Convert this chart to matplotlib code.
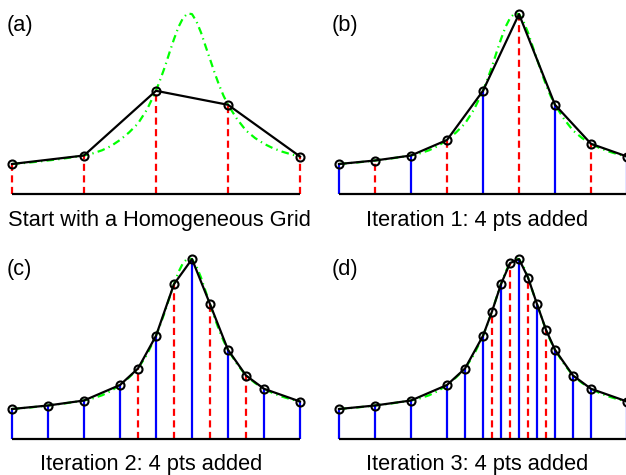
import matplotlib
matplotlib.use('Agg')
import matplotlib.pyplot as plt

# ---------------- data (heights) ----------------
# underlying function (green dash-dot curve), sampled
curve_x = [0/32, 1/32, 2/32, 3/32, 4/32, 5/32, 6/32, 7/32, 8/32, 9/32, 10/32,
           11/32, 12/32, 13/32, 14/32, 15/32, 32/64, 33/64, 34/64, 35/64,
           36/64, 37/64, 38/64, 39/64, 40/64, 41/64, 42/64, 43/64, 44/64,
           45/64, 46/64, 47/64, 48/64, 25/32, 26/32, 27/32, 28/32, 29/32,
           30/32, 31/32, 32/32]
curve_y = [29.5, 30.2, 31.0, 32.0, 33.0, 34.1, 35.3, 36.6, 38.0, 40.2, 43.2,
           47.5, 53.5, 61.0, 70.0, 84.0, 102.7, 114.5, 127.0, 141.0,
           154.4, 166.5, 175.4, 180.0, 179.4, 172.0, 161.0, 147.5, 134.4,
           121.0, 108.7, 97.8, 88.7, 74.5, 63.0, 55.5, 49.7, 45.3,
           41.9, 39.2, 37.0]

# panel (a): homogeneous grid
xa = [0, 0.25, 0.5, 0.75, 1]
ya = [29.5, 38.0, 102.7, 88.7, 37.0]
new_a = [0, 0.25, 0.5, 0.75, 1]

# panel (b): iteration 1
xb = [0, 0.125, 0.25, 0.375, 0.5, 0.625, 0.75, 0.875, 1]
yb = [29.5, 33.0, 38.0, 53.5, 102.7, 179.4, 88.7, 49.7, 37.0]
new_b = [0.125, 0.375, 0.625, 0.875]

# panel (c): iteration 2
xc = [0, 0.125, 0.25, 0.375, 0.4375, 0.5, 0.5625, 0.625, 0.6875, 0.75,
      0.8125, 0.875, 1]
yc = [29.5, 33.0, 38.0, 53.5, 70.0, 102.7, 154.4, 179.4, 134.4, 88.7,
      63.0, 49.7, 37.0]
new_c = [0.4375, 0.5625, 0.6875, 0.8125]

# panel (d): iteration 3
xd = [0, 4/32, 8/32, 12/32, 14/32, 16/32, 17/32, 18/32, 19/32, 20/32, 21/32,
      22/32, 23/32, 24/32, 26/32, 28/32, 1]
yd = [29.5, 33.0, 38.0, 53.5, 70.0, 102.7, 127.0, 154.4, 175.4, 179.4, 161.0,
      134.4, 108.7, 88.7, 63.0, 49.7, 37.0]
new_d = [17/32, 19/32, 21/32, 23/32]

labels = ['(a)', '(b)', '(c)', '(d)']
titles = ['Start with a Homogeneous Grid', 'Iteration 1: 4 pts added',
          'Iteration 2: 4 pts added', 'Iteration 3: 4 pts added']

# ---------------- layout ----------------
W, H = 626, 475
fig = plt.figure(figsize=(W / 100, H / 100), dpi=100)
FONT = 'Liberation Sans'
FS = 15.7

panels = [(xa, ya, new_a), (xb, yb, new_b), (xc, yc, new_c), (xd, yd, new_d)]
ax_left = [12, 339, 12, 339]          # px from left
ax_base = [193.5, 193.5, 438.5, 438.5]  # baseline px from top
title_cx = [159.5, 477.5, 151, 477.5]
title_base = [226, 226, 470, 470]
label_x = [7, 332, 7, 332]
label_base = [31, 31, 275, 275]

LW = 1.6  # ~2 px

for i, (xs, ys, new) in enumerate(panels):
    ax = fig.add_axes([ax_left[i] / W, (H - ax_base[i]) / H, 288 / W, 180 / H])
    ax.set_xlim(0, 1)
    ax.set_ylim(0, 180)
    ax.axis('off')

    # underlying function
    ax.plot(curve_x, curve_y, color=(0, 1, 0), lw=LW,
            dashes=(3.4, 1.9, 0.6, 1.9), dash_capstyle='butt',
            clip_on=False, zorder=1)

    # vertical stems
    for x, y in zip(xs, ys):
        if any(abs(x - n) < 1e-9 for n in new):
            ax.plot([x, x], [0, y], color=(1, 0, 0), lw=LW,
                    dashes=(3.2, 2.0), dash_capstyle='butt',
                    clip_on=False, zorder=2)
        else:
            ax.plot([x, x], [0, y], color=(0, 0, 1), lw=LW,
                    solid_capstyle='butt', clip_on=False, zorder=2)

    # baseline
    ax.plot([0, 1], [0, 0], color='black', lw=LW, solid_capstyle='butt',
            clip_on=False, zorder=3)

    # piecewise linear approximation with nodes
    ax.plot(xs, ys, color='black', lw=LW, marker='o', ms=5.8,
            mfc='none', mec='black', mew=1.5, clip_on=False, zorder=4)

    fig.text(title_cx[i] / W, 1 - title_base[i] / H, titles[i],
             ha='center', va='baseline', fontsize=FS, family=FONT)
    fig.text(label_x[i] / W, 1 - label_base[i] / H, labels[i],
             ha='left', va='baseline', fontsize=FS, family=FONT)

fig.savefig('out.png', dpi=100, facecolor='white')
